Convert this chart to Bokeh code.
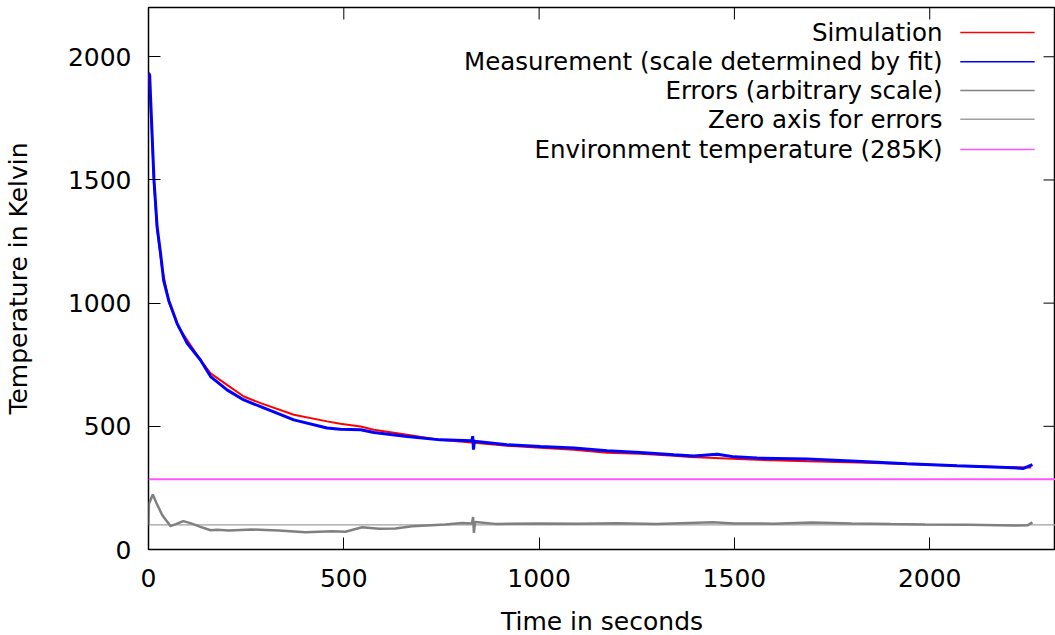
from bokeh.plotting import figure
from bokeh.models import Label, Arrow, FixedTicker, Range1d
from bokeh.embed import file_html
from bokeh.resources import INLINE

# ---- data ----
meas_t = [0, 3, 8, 14, 22, 31, 39, 52, 73, 99, 133, 159, 201, 244, 287, 372, 457, 491,
          543, 577, 662, 747, 828, 830, 832, 834, 918, 1003, 1089, 1174, 1259, 1345,
          1396, 1456, 1500, 1558, 1686, 1814, 1942, 2070, 2198, 2240, 2263]
meas_T = [1935, 1925, 1730, 1500, 1310, 1200, 1090, 1010, 918, 837, 769, 702, 648, 607, 580,
          526, 493, 488, 486, 475, 459, 445, 441, 460, 405, 439, 425, 418, 412, 401, 394, 385,
          380, 387, 376, 371, 367, 358, 348, 340, 333, 329, 345]

sim_t = [0, 8, 14, 22, 35, 52, 78, 133, 159, 201, 244, 287, 372, 457, 491, 543, 577, 662,
         747, 833, 918, 1003, 1089, 1174, 1259, 1345, 1387, 1558, 1686, 1814, 1942, 2070,
         2198, 2260]
sim_T = [1935, 1720, 1490, 1300, 1140, 1005, 900, 769, 715, 668, 621, 594, 547, 520, 510,
         499, 486, 466, 445, 433, 421, 413, 405, 393, 389, 381, 375, 364, 358, 353, 347, 340,
         334, 333]

err_t = [0, 1, 11, 20, 35, 56, 70, 89, 105, 120, 133, 159, 175, 206, 265, 300, 334, 402, 470,
         504, 547, 590, 632, 675, 760, 803, 828, 831, 833, 836, 888, 1000, 1100, 1200, 1300,
         1445, 1500, 1600, 1698, 1800, 1900, 1988, 2100, 2214, 2250, 2263]
err_T = [100, 185, 223, 190, 140, 95, 103, 115, 108, 100, 92, 78, 80, 77, 81, 79, 77, 70, 74,
         72, 90, 84, 85, 94, 101, 108, 106, 132, 68, 112, 104, 106, 105, 107, 104, 111, 106,
         105, 110, 106, 103, 101, 100, 97, 98, 110]

zero_axis = 100
env_temp = 285
x_ticks = [0, 500, 1000, 1500, 2000]
y_ticks = [0, 500, 1000, 1500, 2000]
legend_labels = ["Simulation", "Measurement (scale determined by fit)", "Errors (arbitrary scale)",
                 "Zero axis for errors", "Environment temperature (285K)"]
legend_colors = ["#ff0000", "#0000ff", "#808080", "#a0a0a0", "#ff55ff"]

X_END = 2322
Y_END = 2200
FONT = "DejaVu Sans"
FS = "25px"
FRAME_W, FRAME_H = 907, 542
TICK_PX = 12

p = figure(frame_width=FRAME_W, frame_height=FRAME_H, output_backend="svg", toolbar_location=None,
           x_range=Range1d(0, X_END), y_range=Range1d(0, Y_END),
           min_border_left=140, min_border_right=0, min_border_top=7, min_border_bottom=0)
p.grid.visible = False
p.outline_line_color = "black"
p.outline_line_width = 1.5
p.background_fill_color = "white"
p.border_fill_color = "white"

p.xaxis.ticker = FixedTicker(ticks=x_ticks)
p.yaxis.ticker = FixedTicker(ticks=y_ticks)
for ax in (p.xaxis[0], p.yaxis[0]):
    ax.major_tick_in = TICK_PX
    ax.major_tick_out = 0
    ax.minor_tick_line_color = None
    ax.axis_line_color = None
    ax.major_tick_line_color = "black"
    ax.major_label_text_font = FONT
    ax.major_label_text_font_size = FS
    ax.major_label_text_color = "black"
    ax.axis_label_text_font = FONT
    ax.axis_label_text_font_size = FS
    ax.axis_label_text_font_style = "normal"
    ax.axis_label_text_color = "black"

p.xaxis.axis_label = "Time in seconds"
p.yaxis.axis_label = "Temperature in Kelvin"
p.xaxis.major_label_standoff = 19
p.xaxis.axis_label_standoff = 17
p.yaxis.major_label_standoff = 17
p.yaxis.axis_label_standoff = 32

# mirrored inward ticks on the top and right borders (gnuplot style)
dx = TICK_PX * X_END / FRAME_W
dy = TICK_PX * Y_END / FRAME_H
for t in x_ticks:
    p.add_layout(Arrow(end=None, x_start=t, y_start=Y_END, x_end=t, y_end=Y_END - dy,
                       line_color="black", line_width=1))
for t in y_ticks:
    p.add_layout(Arrow(end=None, x_start=X_END, y_start=t, x_end=X_END - dx, y_end=t,
                       line_color="black", line_width=1))

p.line([0, X_END], [env_temp, env_temp], line_color=legend_colors[4], line_width=2)
p.line([0, X_END], [zero_axis, zero_axis], line_color=legend_colors[3], line_width=1.2)
p.line(err_t, err_T, line_color=legend_colors[2], line_width=2.5)
p.line(sim_t, sim_T, line_color=legend_colors[0], line_width=2)
p.line(meas_t, meas_T, line_color=legend_colors[1], line_width=3)

# legend (gnuplot style: right-aligned text, sample to the right)
text_x = X_END * 0.8754
s0, s1 = X_END * 0.895, X_END * 0.977
row_fracs = [0.046, 0.100, 0.153, 0.206, 0.262]
for lab, col, fr in zip(legend_labels, legend_colors, row_fracs):
    yy = Y_END * (1 - fr)
    p.add_layout(Label(x=text_x, y=yy, text=lab, text_align="right", text_baseline="middle",
                       text_font=FONT, text_font_size="24.5px", text_color="black"))
    p.add_layout(Arrow(end=None, x_start=s0, y_start=yy, x_end=s1, y_end=yy,
                       line_color=col, line_width=1.5))

open("out.html", "w").write(file_html(p, INLINE))
